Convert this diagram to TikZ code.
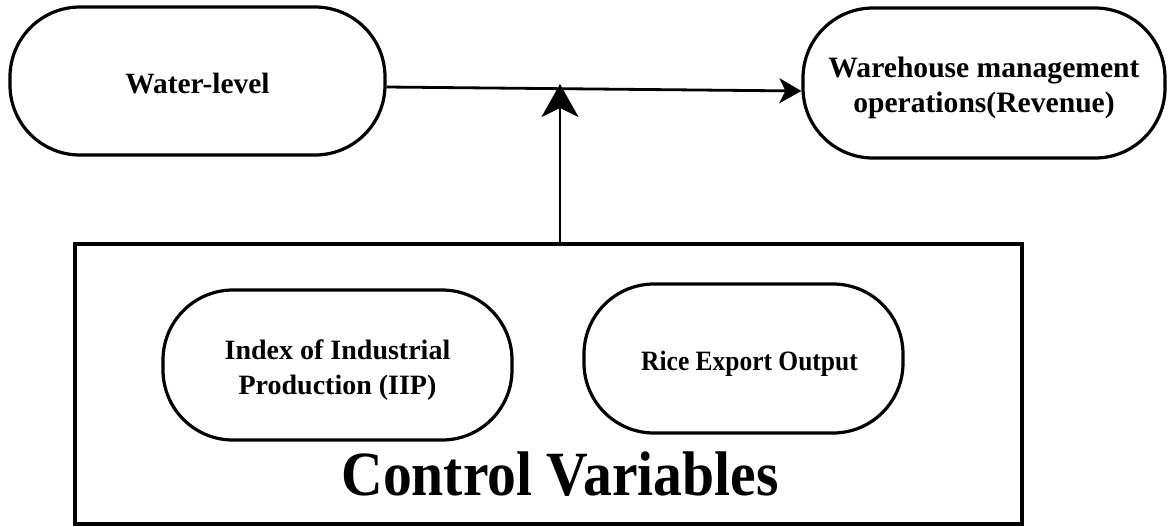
\documentclass[tikz,border=0pt]{standalone}
\usepackage{fontspec}
\setmainfont{Liberation Serif}
\usetikzlibrary{arrows.meta}
\newcommand{\liftup}[1]{\raisebox{-2.5pt}[\height][\depth]{\begin{tabular}{@{}c@{}}#1\end{tabular}}}
\begin{document}
\begin{tikzpicture}[x=0.5pt,y=-0.5pt,
  pill/.style={draw,line width=1.6pt,rounded corners=35pt,align=center,
    font=\bfseries\fontsize{14}{17.5}\selectfont,inner sep=0pt},
  frame/.style={draw,line width=1.6pt,inner sep=0pt},
  conn/.style={line width=1.4pt}]
\useasboundingbox (0,0) rectangle (1172,526);
\node[pill,minimum width=187.5pt,minimum height=74pt,font=\bfseries\fontsize{14.7}{17.5}\selectfont] (water) at (197.5,81) {\liftup{Water-level}};
\node[pill,minimum width=181pt,minimum height=75pt,font=\bfseries\fontsize{14.8}{17.5}\selectfont] (wh) at (984,83) {\liftup{Warehouse management\\operations(Revenue)}};
\node[frame,minimum width=473.5pt,minimum height=140pt] (ctrl) at (548.5,384) {};
\node[pill,minimum width=174.5pt,minimum height=75pt] (iip) at (337.5,365) {\liftup{Index of Industrial\\Production (IIP)}};
\node[pill,minimum width=159.5pt,minimum height=74.5pt] (rice) at (743.5,358.5) {\liftup{\hspace{6pt}\scalebox{0.91}[1]{Rice Export Output}}};
\node[anchor=base,font=\bfseries\fontsize{31.5}{36}\selectfont,inner sep=0pt] (cv) at (560,495) {\scalebox{0.915}[1]{Control Variables}};
\draw[conn,-{Stealth[length=11pt,width=12.5pt,inset=3pt]}] ([yshift=-3pt]water.east) -- ([yshift=-4pt]wh.west);
\coordinate (j) at (560,84);
\draw[conn,-{Stealth[length=16.5pt,width=18.5pt,inset=4.5pt]}] (ctrl.north -| j) -- (j);
\end{tikzpicture}
\end{document}
